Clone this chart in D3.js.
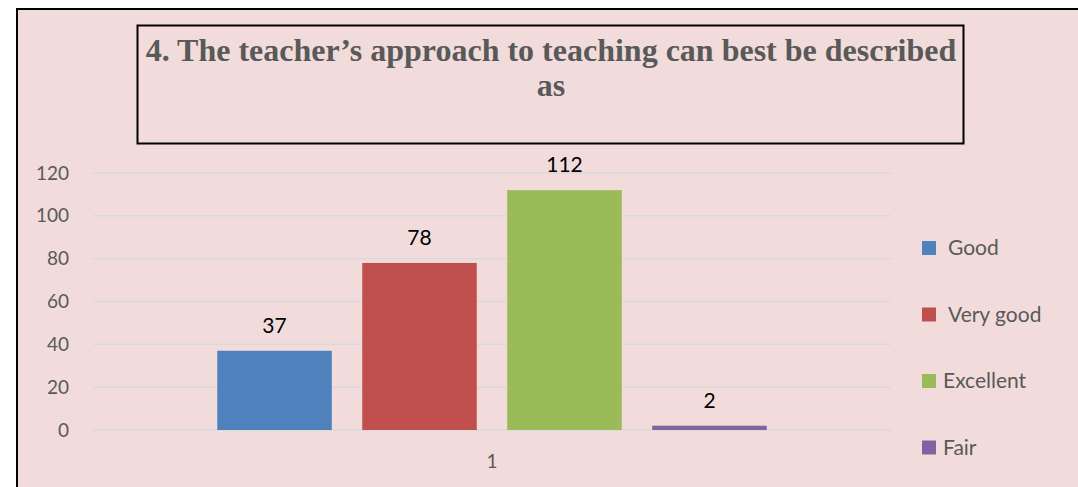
<!DOCTYPE html>
<html>
<head>
<meta charset="utf-8">
<title>Teacher approach</title>
<script src="https://cdn.jsdelivr.net/npm/d3@7"></script>
<style>
	body { margin: 0; background: #fff; }
	svg { display: block; }
</style>
</head>
<body>
<svg width="1078" height="487" class="chart"></svg>
<script>
var categories = ['1']
var series = ['Good', 'Very good', 'Excellent', 'Fair']
var values = [37, 78, 112, 2]
var colors = ['#4F81BD', '#C0504D', '#9BBB59', '#8064A2']
var yticks = [0, 20, 40, 60, 80, 100, 120]
var titleLines = ['4. The teacher\u2019s approach to teaching can best be described', 'as']

var svg = d3.select('.chart')

// chart area background + border (runs off the right/bottom edge)
svg.append('rect')
	.attr('x', 17).attr('y', 9)
	.attr('width', 1070).attr('height', 490)
	.attr('fill', '#F2DCDB')
	.attr('stroke', '#000').attr('stroke-width', 2)

// title box
svg.append('rect')
	.attr('x', 137.5).attr('y', 25.5)
	.attr('width', 826).attr('height', 118)
	.attr('fill', 'none')
	.attr('stroke', '#000').attr('stroke-width', 2)

svg.append('g').selectAll('text')
	.data(titleLines)
	.enter().append('text')
	.attr('x', 551)
	.attr('y', function(d, i) { return 61 + i * 35 })
	.attr('text-anchor', 'middle')
	.attr('font-family', '"Liberation Serif", "Times New Roman", serif')
	.attr('font-weight', 'bold')
	.attr('font-size', 32)
	.attr('fill', '#595959')
	.text(function(d) { return d })

var plot = {left: 93, right: 891, top: 173, bottom: 430}

var y = d3.scaleLinear().domain([0, 120]).range([plot.bottom, plot.top])
var x0 = d3.scaleBand().domain(categories).range([plot.left, plot.right])
var x1 = d3.scaleBand().domain(series).range([0, x0.bandwidth()])
	.paddingInner(0.21).paddingOuter(0.857)

// gridlines
svg.append('g').selectAll('line')
	.data(yticks)
	.enter().append('line')
	.attr('x1', plot.left).attr('x2', plot.right)
	.attr('y1', function(d) { return y(d) }).attr('y2', function(d) { return y(d) })
	.attr('stroke', '#D9D9D9').attr('stroke-width', 1.5)

var font = 'Lato, "Open Sans", sans-serif'

// y axis labels
var yaxis = svg.append('g')
	.attr('transform', 'translate(' + 77 + ',0)')
	.call(d3.axisLeft(y).tickValues(yticks).tickSize(0).tickPadding(8))
yaxis.select('.domain').remove()
yaxis.selectAll('text')
	.attr('font-family', font).attr('font-size', 19).attr('fill', '#595959')

// x axis label
var xaxis = svg.append('g')
	.attr('transform', 'translate(0,' + plot.bottom + ')')
	.call(d3.axisBottom(x0).tickSize(0).tickPadding(25))
xaxis.select('.domain').remove()
xaxis.selectAll('text')
	.attr('font-family', font).attr('font-size', 19).attr('fill', '#595959')

var bars = svg.append('g')
	.attr('transform', 'translate(' + x0('1') + ',0)')
	.selectAll('.bar')
	.data(series)
	.enter()

bars.append('rect')
	.attr('x', function(d) { return x1(d) })
	.attr('y', function(d, i) { return y(values[i]) })
	.attr('width', x1.bandwidth())
	.attr('height', function(d, i) { return plot.bottom - y(values[i]) })
	.attr('fill', function(d, i) { return colors[i] })

bars.append('text')
	.attr('x', function(d) { return x1(d) + x1.bandwidth() / 2 })
	.attr('y', function(d, i) { return y(values[i]) - 18 })
	.attr('text-anchor', 'middle')
	.attr('font-family', font).attr('font-size', 21).attr('fill', '#000')
	.text(function(d, i) { return values[i] })

// legend
var legend = svg.append('g').selectAll('g')
	.data(series)
	.enter().append('g')
	.attr('transform', function(d, i) { return 'translate(922,' + (241 + i * 66.5) + ')' })

legend.append('rect')
	.attr('width', 14).attr('height', 14)
	.attr('fill', function(d, i) { return colors[i] })

legend.append('text')
	.attr('x', function(d, i) { return i < 2 ? 26 : 21 })
	.attr('y', 14)
	.attr('font-family', font).attr('font-size', 21).attr('fill', '#595959')
	.text(function(d) { return d })
</script>
</body>
</html>
